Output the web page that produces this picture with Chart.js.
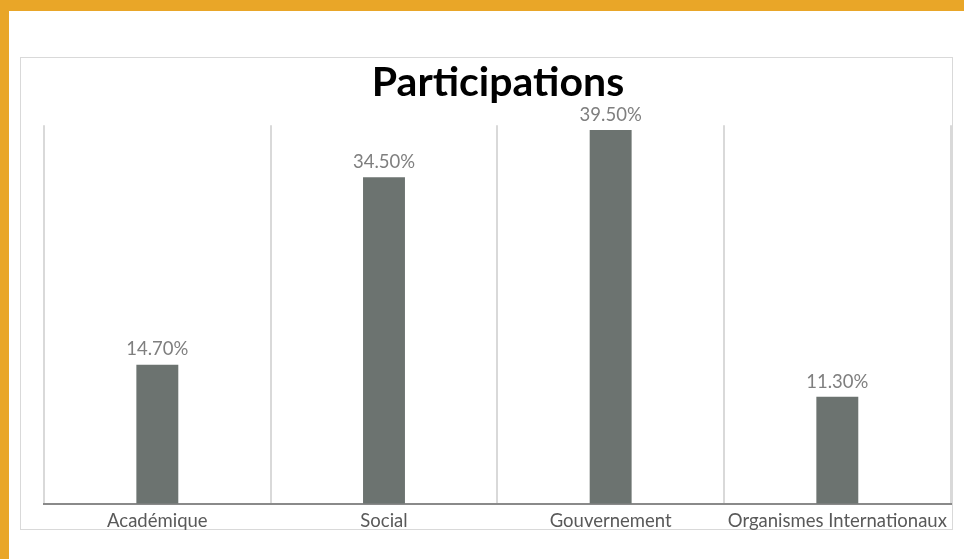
<!DOCTYPE html>
<html>
<head>
<meta charset="utf-8">
<script src="https://cdn.jsdelivr.net/npm/chart.js@4"></script>
<style>
  html, body { margin: 0; padding: 0; }
  body { width: 964px; height: 559px; background: #e9a628; position: relative; overflow: hidden; }
  #page { position: absolute; left: 9px; top: 11px; right: 0; bottom: 0; background: #fff; }
  #frame { position: absolute; left: 20px; top: 57px; width: 931px; height: 471px; border: 1px solid #d9d9d9; }
  #participationsChart { position: absolute; left: 21px; top: 58px; display: block; }
</style>
</head>
<body>
<div id="page"></div>
<div id="frame"></div>
<canvas id="participationsChart" width="932" height="480"></canvas>
<script>
// Chart data
const categories = ['Académique', 'Social', 'Gouvernement', 'Organismes Internationaux'];
const participationValues = [14.7, 34.5, 39.5, 11.3];

// draws the percentage above each bar
const valueLabels = {
    id: 'valueLabels',
    afterDatasetsDraw(chart) {
        const ctx = chart.ctx;
        const meta = chart.getDatasetMeta(0);
        ctx.save();
        ctx.font = '18.5px Lato';
        ctx.fillStyle = '#7f7f7f';
        ctx.textAlign = 'center';
        ctx.textBaseline = 'bottom';
        meta.data.forEach((bar, i) => {
            ctx.fillText(participationValues[i].toFixed(2) + '%', bar.x, bar.y - 6);
        });
        ctx.restore();
    }
};

const ctx = document.getElementById('participationsChart').getContext('2d');
new Chart(ctx, {
    type: 'bar',
    data: {
        labels: categories,
        datasets: [{
            label: 'Participations',
            data: participationValues,
            backgroundColor: '#6c7370',
            barPercentage: 1,
            categoryPercentage: 0.185
        }]
    },
    options: {
        responsive: false,
        animation: false,
        layout: { padding: { left: 23, right: 1, top: 0, bottom: 0 } },
        plugins: {
            legend: { display: false },
            tooltip: { enabled: false },
            title: {
                display: true,
                text: 'Participations',
                color: '#000',
                font: { family: 'Lato', size: 41, weight: 'bold' },
                padding: { top: 0, bottom: 18 }
            }
        },
        scales: {
            x: {
                offset: true,
                grid: { offset: true, color: '#d9d9d9', lineWidth: 2, drawTicks: false },
                border: { display: true, color: '#8a8a8a', width: 2 },
                ticks: { color: '#595959', font: { family: 'Lato', size: 18.5 }, padding: 6, maxRotation: 0 }
            },
            y: {
                display: false,
                min: 0,
                max: 40
            }
        }
    },
    plugins: [valueLabels]
});
</script>
</body>
</html>
